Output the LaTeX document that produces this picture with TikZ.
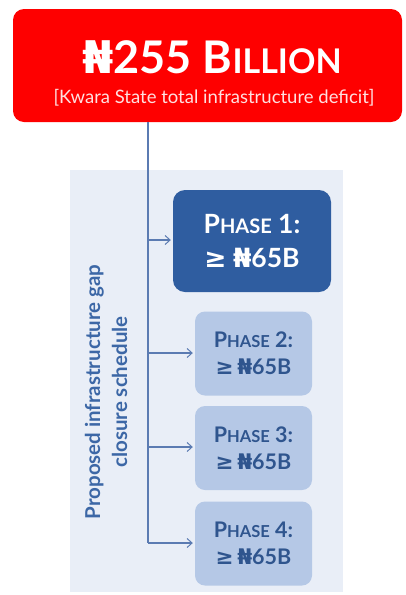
\documentclass[tikz,border=0pt]{standalone}
\usepackage{fontspec}
\setmainfont{Lato}
\newfontfamily\symfont{DejaVu Sans}
\usetikzlibrary{arrows.meta}
\definecolor{kred}{HTML}{FE0000}
\definecolor{dblue}{HTML}{2F5DA0}
\definecolor{lblue}{HTML}{B5C8E6}
\definecolor{panelbg}{HTML}{E9EEF7}
\definecolor{lineblue}{HTML}{5B7BB2}
\definecolor{txtblue}{HTML}{3C67A6}
\definecolor{phtxt}{HTML}{2F558E}
\newcommand{\nairasym}{{\symfont\bfseries ₦}}
\newcommand{\geqsym}{{\symfont ≥}}
\tikzset{
  bigbox/.style={draw=none, fill=dblue, rounded corners=12pt, text=white, align=center,
    minimum width=158pt, minimum height=102pt, inner sep=0pt,
    font=\bfseries\fontsize{26.5}{34}\selectfont},
  smallbox/.style={draw=none, fill=lblue, rounded corners=10pt, text=phtxt, align=center,
    minimum width=117pt, minimum height=84pt, inner sep=0pt,
    font=\bfseries\fontsize{21.5}{27}\selectfont},
  conn/.style={draw=lineblue, line width=1.1pt},
  arr/.style={conn, -{Straight Barb[length=5pt,width=9pt,line width=1pt]}, shorten >=2pt}
}
\newcommand{\scbig}[1]{{\fontsize{20}{22}\selectfont #1}}
\newcommand{\scsmall}[1]{{\fontsize{16.5}{18}\selectfont #1}}
\begin{document}
\begin{tikzpicture}[x=1pt,y=1pt]
\useasboundingbox (0,0) rectangle (406,-595);
% panel
\fill[panelbg] (70,-170) rectangle (343,-592);
% red header
\node[fill=kred, rounded corners=11pt, minimum width=389pt, minimum height=113pt, inner sep=0pt] (head) at (207.5,-65.5) {};
\node[text=white, font=\bfseries\fontsize{45}{50}\selectfont, inner sep=0pt] (title) at (212,-57)
  {\nairasym255 B{\fontsize{34}{38}\selectfont ILLION}};
\node[text=white!88!kred, font=\fontsize{18.5}{22}\selectfont, inner sep=0pt] (sub) at (214,-98)
  {[Kwara State total infrastructure deficit]};
% rotated label
\node[rotate=90, text=txtblue, align=center, font=\bfseries\fontsize{20.5}{27}\selectfont, inner sep=0pt] (lab) at (106,-392)
  {Proposed infrastructure gap\\closure schedule};
% phases
\node[bigbox] (p1) at (252,-241) {P\scbig{HASE} 1:\\\geqsym\ \nairasym65B};
\node[smallbox] (p2) at (253.5,-353.5) {P\scsmall{HASE} 2:\\\geqsym\,\nairasym65B};
\node[smallbox] (p3) at (253.5,-448) {P\scsmall{HASE} 3:\\\geqsym\,\nairasym65B};
\node[smallbox] (p4) at (253.5,-543.5) {P\scsmall{HASE} 4:\\\geqsym\,\nairasym65B};
% connectors
\coordinate (top) at (148,-122);
\coordinate (j1) at (148,-240);
\coordinate (j2) at (148,-353);
\coordinate (j3) at (148,-447);
\coordinate (j4) at (148,-543);
\draw[conn] (top) -- (j4);
\draw[arr] (j1) -- (p1.west |- j1);
\draw[arr] (j2) -- (p2.west |- j2);
\draw[arr] (j3) -- (p3.west |- j3);
\draw[arr] (j4) -- (p4.west |- j4);
\end{tikzpicture}
\end{document}
